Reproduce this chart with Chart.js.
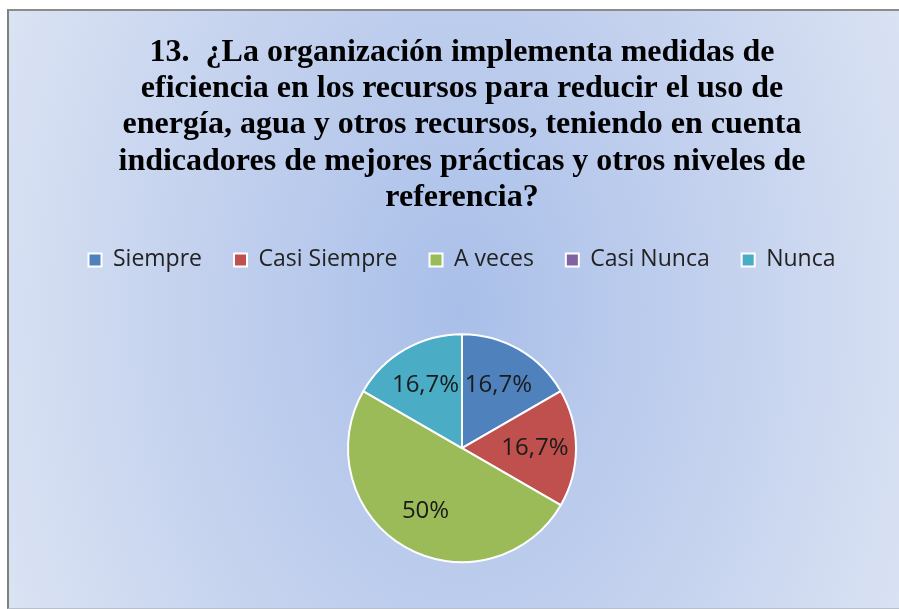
<!DOCTYPE html>
<html lang="es">
  <head>
    <meta charset="UTF-8" />
    <title>Pregunta 13</title>
    <style>
      html,
      body {
        margin: 0;
        padding: 0;
        width: 100%;
        height: 100%;
        overflow: hidden;
        background: #fff;
      }

      .frame {
        position: absolute;
        left: 7px;
        top: 9px;
        width: 1000px;
        height: 597px;
        border-left: 2px solid #808080;
        border-top: 2px solid #8c8c8c;
        border-bottom: 1px solid #b8c0cc;
        background: radial-gradient(ellipse 520px 760px at 450px 300px, #a9bfe9 0%, #c3d1ee 50%, #dde5f4 100%);
      }

      .container {
        position: absolute;
        left: 0;
        top: 0;
        width: 899px;
        height: 620px;
      }
    </style>
  </head>
  <body>
    <div class="frame"></div>
    <div class="container"><canvas id="chart"></canvas></div>

    <script src="https://cdn.jsdelivr.net/npm/chart.js@4.4.0/dist/chart.umd.min.js"></script>
    <script>
      const TITLE_LINES = [
        "13.  ¿La organización implementa medidas de",
        "eficiencia en los recursos para reducir el uso de",
        "energía, agua y otros recursos, teniendo en cuenta",
        "indicadores de mejores prácticas y otros niveles de",
        "referencia?",
      ];
      const CATEGORIES = ["Siempre", "Casi Siempre", "A veces", "Casi Nunca", "Nunca"];
      const RESPONSES = [1, 1, 3, 0, 1];
      const COLORS = ["#4f81bd", "#c0504d", "#9bbb59", "#8064a2", "#4bacc6"];

      // percentage labels inside the slices, Spanish decimal comma
      const sliceLabels = {
        id: "sliceLabels",
        afterDatasetsDraw(chart) {
          const ctx = chart.ctx;
          const values = chart.data.datasets[0].data;
          const total = values.reduce((a, b) => a + b, 0);
          ctx.save();
          ctx.font = "24px 'Open Sans'";
          ctx.fillStyle = "#1a1a1a";
          ctx.textAlign = "center";
          ctx.textBaseline = "middle";
          chart.getDatasetMeta(0).data.forEach((arc, i) => {
            if (!values[i]) return;
            const pct = (values[i] / total) * 100;
            let text = pct.toFixed(1).replace(".", ",");
            if (text.endsWith(",0")) text = text.slice(0, -2);
            const mid = (arc.startAngle + arc.endAngle) / 2;
            const r = arc.outerRadius * 0.64;
            ctx.fillText(text + "%", arc.x + Math.cos(mid) * r, arc.y + Math.sin(mid) * r);
          });
          ctx.restore();
        },
      };

      new Chart(document.getElementById("chart"), {
        type: "pie",
        data: {
          labels: CATEGORIES,
          datasets: [
            {
              data: RESPONSES,
              backgroundColor: COLORS,
              borderColor: "#ffffff",
              borderWidth: 2,
              radius: 114,
            },
          ],
        },
        options: {
          responsive: true,
          maintainAspectRatio: false,
          animation: false,
          layout: { padding: { left: 25, right: 0, top: 0, bottom: 5 } },
          plugins: {
            title: {
              display: true,
              text: TITLE_LINES,
              color: "#000",
              font: { family: "'Liberation Serif'", size: 32, weight: "bold", lineHeight: 1.14 },
              padding: { top: 34, bottom: 0 },
            },
            legend: {
              position: "top",
              labels: {
                boxWidth: 13,
                boxHeight: 13,
                padding: 32,
                color: "#222",
                font: { family: "'Open Sans'", size: 23 },
              },
            },
            tooltip: { enabled: false },
          },
        },
        plugins: [sliceLabels],
      });
    </script>
  </body>
</html>
